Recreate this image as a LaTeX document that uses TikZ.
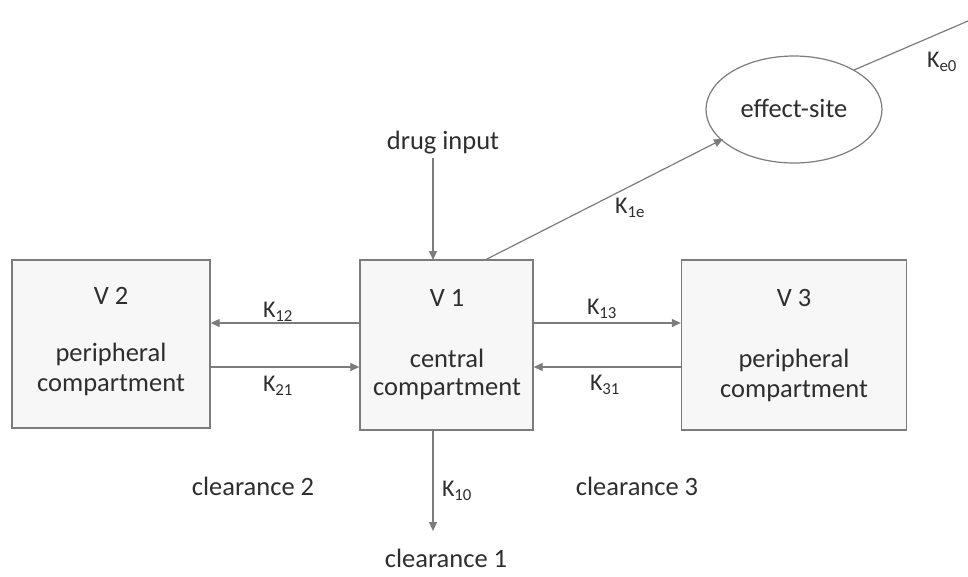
\documentclass[tikz,border=0pt]{standalone}
\usepackage{fontspec}
\setmainfont{Carlito}
\usetikzlibrary{arrows.meta,shapes.geometric}
\definecolor{linec}{HTML}{7C7C7C}
\definecolor{boxfill}{HTML}{F7F7F7}
\definecolor{txt}{HTML}{2E2E2E}
\begin{document}
\begin{tikzpicture}[x=1pt,y=-1pt,
  comp/.style={draw=linec,line width=1.3pt,fill=boxfill,inner sep=0pt},
  lbl/.style={text=txt,font=\fontsize{26.5}{30}\selectfont,inner sep=0pt},
  klbl/.style={text=txt,font=\fontsize{24}{28}\selectfont,inner sep=0pt},
  flow/.style={draw=linec,line width=1.2pt,-{Triangle[length=9pt,width=8pt]}},
  link/.style={draw=linec,line width=1.2pt}]
\useasboundingbox (0,0) rectangle (968,576);
% boxes
\node[comp,minimum width=198pt,minimum height=168pt] (v2) at (111,344) {};
\node[comp,minimum width=173pt,minimum height=170pt] (v1) at (446.5,345) {};
\node[comp,minimum width=225pt,minimum height=170pt] (v3) at (794,345) {};
\node[ellipse,draw=linec,line width=1.2pt,fill=white,minimum width=176pt,minimum height=107pt,inner sep=0pt] (es) at (794,109.5) {};
% texts
\node[lbl] (t2a) at (111,296) {V 2};
\node[lbl] (t2b) at (111,354) {peripheral};
\node[lbl] (t2c) at (111,385) {compartment};
\node[lbl] (t1a) at (447,298) {V 1};
\node[lbl] (t1b) at (447,358) {central};
\node[lbl] (t1c) at (447,389) {compartment};
\node[lbl] (t3a) at (794,298) {V 3};
\node[lbl] (t3b) at (794,360) {peripheral};
\node[lbl] (t3c) at (794,391) {compartment};
\node[lbl] (est) at (794,108) {effect-site};
\node[lbl] (drug) at (443,143) {drug input};
\node[lbl] (c1) at (446,558) {clearance 1};
\node[lbl] (c2) at (253,486) {clearance 2};
\node[lbl] (c3) at (637,486) {clearance 3};
% connector endpoints
\coordinate (din) at (433,158);
\coordinate (v1top) at (433,260);
\coordinate (k10e) at (433,531);
\coordinate (k1s) at (485,260);
\coordinate (k1e) at (723,139);
\coordinate (ke0s) at (854,70);
\coordinate (ke0e) at (968,21);
% arrows
\draw[flow] (din) -- (v1top);
\draw[flow] (v1.south -| din) -- (k10e);
\draw[flow] (k1s) -- (k1e);
\draw[link] (ke0s) -- (ke0e);
\draw[flow] (v1.west |- 0,323) -- (v2.east |- 0,323);
\draw[flow] (v2.east |- 0,367) -- (v1.west |- 0,367);
\draw[flow] (v1.east |- 0,323) -- (v3.west |- 0,323);
\draw[flow] (v3.west |- 0,367) -- (v1.east |- 0,367);
% rate labels
\node[klbl] (k12) at (278,312) {K\textsubscript{12}};
\node[klbl] (k21) at (278,386) {K\textsubscript{21}};
\node[klbl] (k13) at (602,309) {K\textsubscript{13}};
\node[klbl] (k31) at (605,385) {K\textsubscript{31}};
\node[klbl] (k10) at (457,491) {K\textsubscript{10}};
\node[klbl] (k1el) at (630,208) {K\textsubscript{1e}};
\node[klbl] (ke0l) at (942,62) {K\textsubscript{e0}};
\end{tikzpicture}
\end{document}
